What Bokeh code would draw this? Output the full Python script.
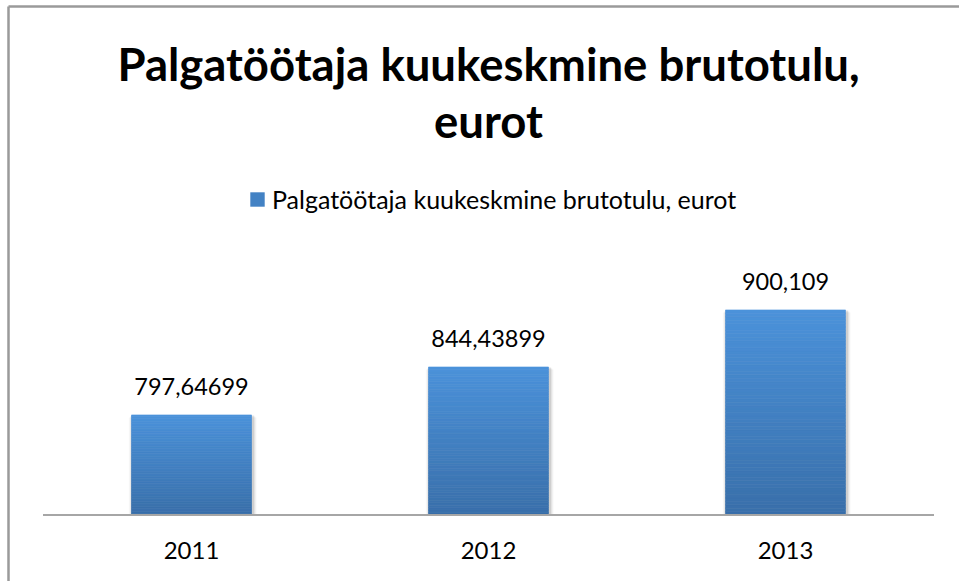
from bokeh.plotting import figure
from bokeh.models import Range1d, Legend, LegendItem
from bokeh.core.properties import value
from bokeh.embed import file_html
from bokeh.resources import INLINE

# ---- data ----
years = ["2011", "2012", "2013"]
values = [797.64699, 844.43899, 900.109]
value_labels = ["797,64699", "844,43899", "900,109"]
series_name = "Palgatöötaja kuukeskmine brutotulu, eurot"
title_lines = ["Palgatöötaja kuukeskmine brutotulu,", "eurot"]
axis_min = 700

FONT = "Lato"
W, H = 959, 581

# pixel scale of the chart
PX_X = 297.0      # px per category
PX_Y = 1.0248     # px per euro
X_ORIGIN = 191.0  # px position of first category
Y_BASE = 514.5    # px position of axis_min

x0 = -X_ORIGIN / PX_X
x1 = x0 + W / PX_X
y1 = axis_min + Y_BASE / PX_Y
y0 = y1 - H / PX_Y

def dx(px):
    return x0 + px / PX_X

def dy(py):
    return y1 - py / PX_Y

p = figure(width=W, height=H, output_backend="svg", toolbar_location=None,
           x_range=Range1d(x0, x1), y_range=Range1d(y0, y1),
           x_axis_type=None, y_axis_type=None, min_border=0,
           background_fill_color="white", border_fill_color="white")
p.grid.visible = False
p.outline_line_color = None

# chart-area border (left and top edges visible in the window)
p.segment(x0=[dx(8), dx(8)], x1=[dx(8), x1 + 1], y0=[y0 - 10, dy(6)], y1=[dy(6), dy(6)],
          line_color="#9a9a9a", line_width=2.5)

xs = list(range(len(years)))
bar_w = 0.404

# soft shadow behind bars
for k, (w_add, a) in enumerate([(0.010, 0.10), (0.018, 0.06), (0.026, 0.035)]):
    p.vbar(x=[x + 0.004 for x in xs], width=bar_w + w_add, bottom=axis_min,
           top=[v - 0.5 - k for v in values], fill_color="#000000", fill_alpha=a,
           line_color=None)

def lerp(c0, c1, t):
    return "#%02x%02x%02x" % tuple(int(round(a + (b - a) * t)) for a, b in zip(c0, c1))

bottom_c = (0x39, 0x6f, 0xaa)
top_c = (0x4b, 0x92, 0xda)
N = 60
sx, sb, st, sc = [], [], [], []
for x, v in zip(xs, values):
    for k in range(N):
        sx.append(x)
        sb.append(axis_min + (v - axis_min) * k / N)
        st.append(axis_min + (v - axis_min) * (k + 1) / N)
        sc.append(lerp(bottom_c, top_c, (k + 0.5) / N))
p.vbar(x=sx, width=bar_w, bottom=sb, top=st, fill_color=sc, line_color=sc, line_width=0.6)

# legend proxy
proxy = p.vbar(x=[0], width=0, bottom=axis_min, top=axis_min,
               fill_color=lerp(bottom_c, top_c, 0.55), line_color=None)

# axis baseline
p.segment(x0=[-0.5], x1=[len(years) - 0.5], y0=[axis_min], y1=[axis_min],
          line_color="#a6a6a6", line_width=2)

# category labels
p.text(x=xs, y=[axis_min] * len(xs), text=years, text_align="center",
       text_baseline="alphabetic", y_offset=35, text_font=value(FONT),
       text_font_size="24px", text_color="#000000")

# data labels
p.text(x=xs, y=values, text=value_labels, text_align="center",
       text_baseline="alphabetic", y_offset=-28, text_font=value(FONT),
       text_font_size="23.5px", text_color="#000000")

# title (two lines)
mid = (len(years) - 1) / 2
p.text(x=[mid], y=[axis_min], text=[title_lines[0]], text_align="center",
       text_baseline="alphabetic", y_offset=-451.5, text_font=value(FONT),
       text_font_size="45.5px", text_font_style="bold", text_color="#000000")
p.text(x=[mid], y=[axis_min], text=[title_lines[1]], text_align="center",
       text_baseline="alphabetic", y_offset=-394.5, text_font=value(FONT),
       text_font_size="45.5px", text_font_style="bold", text_color="#000000")

legend = Legend(items=[LegendItem(label=series_name, renderers=[proxy])],
                location=(248, 367), orientation="horizontal",
                glyph_width=18, glyph_height=18, label_standoff=6,
                label_text_font=FONT, label_text_font_size="25px",
                label_text_color="#000000", padding=0, margin=0,
                border_line_color=None, background_fill_alpha=0)
p.add_layout(legend, "center")

open("out.html", "w").write(file_html(p, INLINE))
